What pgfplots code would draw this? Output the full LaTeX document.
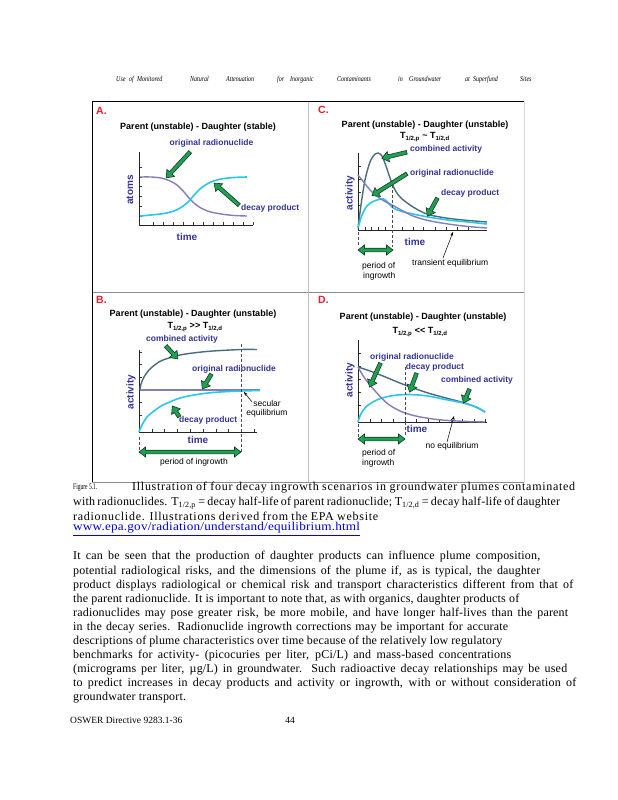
\documentclass[border=0pt]{standalone}
\usepackage{pgfplots}
\pgfplotsset{compat=1.18}
\usepackage{fontspec}
\setmainfont{Liberation Serif}
\newfontfamily\arial{Liberation Sans}
\usetikzlibrary{calc,shapes.arrows,arrows.meta}
\definecolor{pur}{RGB}{132,126,182}
\definecolor{cya}{RGB}{45,198,235}
\definecolor{cmb}{RGB}{72,108,124}
\definecolor{lab}{RGB}{52,52,150}
\definecolor{gar}{RGB}{32,160,82}
\definecolor{gard}{RGB}{22,58,36}
\definecolor{pred}{RGB}{228,30,48}
\definecolor{link}{RGB}{0,0,230}
\tikzset{
 garr/.style={single arrow, draw=gard, fill=gar, line width=0.6pt, inner sep=1.6pt,
   single arrow head extend=3.3pt, single arrow tip angle=75, minimum width=9.8pt},
 garr2/.style={double arrow, draw=gard, fill=gar, line width=0.6pt, inner sep=1.5pt,
   double arrow head extend=3.2pt, double arrow tip angle=75, minimum width=9.4pt},
 lb/.style={font=\arial\bfseries\fontsize{8.5}{10}\selectfont, text=lab, inner sep=0},
 ax/.style={font=\arial\bfseries\fontsize{10}{12}\selectfont, text=lab, inner sep=0},
 tt/.style={font=\arial\bfseries\fontsize{9}{10}\selectfont, inner sep=0},
 nt/.style={font=\arial\fontsize{8.5}{10}\selectfont, inner sep=0},
 pl/.style={font=\arial\bfseries\fontsize{10.5}{12}\selectfont, text=pred, inner sep=0, anchor=west},
 bt/.style={font=\fontsize{12}{14}\selectfont\addfontfeatures{LetterSpace=1.5}, inner sep=0, anchor=west},
 bw/.style={font=\fontsize{12}{14}\selectfont\addfontfeatures{LetterSpace=6}, inner sep=0, anchor=west},
 hd/.style={font=\fontsize{7.5}{9}\selectfont\itshape, inner sep=0, anchor=base west},
 thinarr/.style={-{Stealth[length=4pt,width=3pt]}, line width=0.5pt, black},
 dsh/.style={dashed, dash pattern=on 3pt off 2pt, line width=0.7pt, black!70}
}
\newcommand\garrow[2]{\path let \p1=($(#2)-(#1)$), \n1={atan2(\y1,\x1)}, \n2={veclen(\x1,\y1)} in ($(#1)!0.5!(#2)$) node[garr, rotate=\n1, minimum height=\n2] {};}
\pgfplotsset{panel/.style={scale only axis, axis lines=left, axis line style={-, line width=0.7pt, black!85},
  xticklabel=\empty, yticklabel=\empty, tick align=inside, major tick length=3pt,
  tick style={black!80, line width=0.6pt}, clip=false, anchor=south west, xmin=0, ymin=0, enlargelimits=false}}
\begin{document}
\begin{tikzpicture}[x=1pt,y=1pt]
\useasboundingbox (0,0) rectangle (618,-800);
\fill[white] (0,0) rectangle (618,-800);
% header
\foreach \w/\xx in {Use/116, of/129, Monitored/137, Natural/190, Attenuation/226, for/277, Inorganic/290, Contaminants/337, in/398, Groundwater/409, at/465, Superfund/473, Sites/520}
  \node[hd] at (\xx,-81.5) {\scalebox{0.8}[1]{\w}};
% frame
\draw[black!45, line width=0.8pt] (92,-292) -- (524,-292);
\draw[black!45, line width=0.8pt] (92,-482) -- (524,-482);
\draw[black!25, line width=0.8pt] (308,-101) -- (308,-482);
\draw[black!15, line width=0.8pt] (524,-101) -- (524,-482);
\draw[black, line width=0.9pt] (92,-482) -- (92,-101) -- (524,-101);

% ---------- Panel A ----------
\begin{axis}[panel, at={(139pt,-225pt)}, width=114pt, height=73pt, xmax=114, ymax=73,
  xtick={14,24,...,114}, ytick={9,19,29,39,48,58}]
\addplot[pur, smooth, line width=1.4pt] coordinates {(1,48) (12,48) (22,47) (30,44.5) (38,40) (45,33) (50,27) (55,22) (61,17.5) (70,13.5) (82,11) (95,9.5) (108,9)};
\addplot[cya, smooth, line width=1.6pt] coordinates {(1,9) (12,10) (25,11.5) (35,14) (42,17.5) (48,22) (53,27.5) (58,33) (64,38.5) (72,43) (82,46) (95,47.5) (108,48)};
\end{axis}
\node[pl] at (96,-111) {A.};
\node[tt] at (198,-127) {Parent (unstable) - Daughter (stable)};
\node[lb] at (211.5,-143) {original radionuclide};
\node[lb, anchor=west] at (241,-208) {decay product};
\node[ax, rotate=90] at (130,-190) {atoms};
\node[ax] at (187,-237) {time};
\garrow{191,-151}{167,-177}
\garrow{240,-206}{215,-184}

% ---------- Panel C ----------
\begin{axis}[panel, at={(358pt,-230pt)}, width=129pt, height=77pt, xmax=129, ymax=77,
  xtick={7,13.5,20,27,44,55,65,77,88,99,110}, ytick={12,25,38,51,64}]
\addplot[cmb, smooth, line width=1.4pt] coordinates {(0,2) (3,25) (7,50) (12,68) (17,76) (20,77) (24,74) (28,64) (32,52) (36,42) (42,33) (52,25) (62,19) (72,15) (88,12) (105,10) (129,8)};
\addplot[cya, smooth, line width=1.6pt] coordinates {(0,2) (4,15) (9,24) (15,28.5) (21,30.5) (25,31) (28,29.5) (32,25) (36,21.5) (44,18.5) (55,16) (70,13) (90,10) (110,8) (129,6)};
\addplot[pur, smooth, line width=1.4pt] coordinates {(0,55) (6,47.5) (13,39) (20,33) (27,28.5) (35,24.5) (45,19) (55,14) (70,9.5) (90,6) (110,3.5) (129,2)};
\end{axis}
\draw[dsh] (392,-185) -- (392,-247);
\draw[dsh] (358,-232) -- (358,-247);
\node[pl] at (318,-110) {C.};
\node[tt] at (425,-125) {Parent (unstable) - Daughter (unstable)};
\node[tt] at (425,-137) {T\textsubscript{1/2,p} \textasciitilde\ T\textsubscript{1/2,d}};
\node[lb, anchor=west] at (410,-149) {combined activity};
\node[lb, anchor=west] at (410,-173) {original radionuclide};
\node[lb, anchor=west] at (441,-193) {decay product};
\node[ax, rotate=90] at (350,-193) {activity};
\node[ax] at (415,-242) {time};
\node[nt, anchor=west] at (412,-263) {transient equilibrium};
\node[nt, anchor=west] at (362,-266) {period of};
\node[nt, anchor=west] at (363,-276) {ingrowth};
\garrow{408,-152}{383,-158}
\garrow{408,-173}{373,-195}
\garrow{438,-197}{428,-215}
\draw[thinarr] (443,-258) -- (453,-232);
\node[garr2, minimum height=35pt] at (375.5,-250) {};

% ---------- Panel B ----------
\begin{axis}[panel, at={(139pt,-432pt)}, width=118pt, height=82pt, xmax=118, ymax=82,
  xtick={13,25.5,38,51,64,77,89.5,102,115}, ytick={17,30,43,55,68,80}]
\addplot[cmb, smooth, line width=1.4pt] coordinates {(1,42) (2,48) (5,55) (10,62) (17,68) (24,72) (41,77) (58,79.5) (74,81) (102,82.5) (118,82.5)};
\addplot[pur, line width=1.4pt] coordinates {(1,42) (121,42)};
\addplot[cya, smooth, line width=1.6pt] coordinates {(0,0) (3,7) (8,15) (15,21) (24,27) (41,34) (58,37.5) (74,39.5) (90,40.5) (102,41) (121,41.5)};
\end{axis}
\draw[dsh] (241,-344) -- (241,-453);
\draw[dsh] (139,-437) -- (139,-453);
\node[pl] at (96,-300) {B.};
\node[tt] at (193,-314) {Parent (unstable) - Daughter (unstable)};
\node[tt] at (195,-327) {T\textsubscript{1/2,p} >> T\textsubscript{1/2,d}};
\node[lb] at (182,-339) {combined activity};
\node[lb, anchor=west] at (192,-369) {original radionuclide};
\node[lb, anchor=west] at (179,-420) {decay product};
\node[nt] at (267,-403) {secular};
\node[nt] at (267,-413) {equilibrium};
\draw[thinarr] (252,-402) -- (244,-392);
\node[ax, rotate=90] at (131,-392) {activity};
\node[ax] at (198,-440) {time};
\node[nt] at (194,-462) {period of ingrowth};
\node[garr2, minimum height=102pt] at (190,-452) {};
\garrow{165,-345}{177,-358}
\garrow{212,-373}{203,-388}
\garrow{180,-418}{173,-407}

% ---------- Panel D ----------
\begin{axis}[panel, at={(358pt,-422pt)}, width=129pt, height=82pt, xmax=129, ymax=82,
  xtick={12,23.5,35,47,58.5,70,81.5,93,104.5,116,127.5}, ytick={17,30,43,56,69}]
\addplot[cmb, smooth, line width=1.4pt] coordinates {(0,55) (12,51) (25,46) (47,37) (70,29) (90,23.5) (105,19.5) (118,15) (127,10)};
\addplot[cya, smooth, line width=1.6pt] coordinates {(0,0) (2,6) (5,11.5) (9,16) (14,19.5) (20,22.5) (30,25.5) (40,27) (50,27.5) (60,27) (70,26) (85,23) (105,19) (118,15) (127,10)};
\addplot[pur, smooth, line width=1.4pt] coordinates {(0,55) (4,48) (8,42) (12,37) (18,30) (24,23.5) (30,18) (38,13) (47,9) (60,5.5) (75,3) (90,1.5) (110,0.5) (127,0)};
\end{axis}
\draw[dsh] (405,-367) -- (405,-437);
\draw[dsh] (358,-424) -- (358,-437);
\node[pl] at (318,-300) {D.};
\node[tt] at (423,-317) {Parent (unstable) - Daughter (unstable)};
\node[tt] at (420,-332) {T\textsubscript{1/2,p} << T\textsubscript{1/2,d}};
\node[lb] at (412,-357) {original radionuclide};
\node[lb] at (435,-367) {decay product};
\node[lb] at (477,-380) {combined activity};
\node[ax, rotate=90] at (350,-380) {activity};
\node[ax] at (417,-429) {time};
\node[nt] at (452,-446) {no equilibrium};
\node[nt, anchor=west] at (362,-453) {period of};
\node[nt, anchor=west] at (362,-463) {ingrowth};
\node[garr2, minimum height=47pt] at (381.5,-439) {};
\garrow{381,-362}{370,-386}
\garrow{417,-372}{410,-391}
\garrow{470,-388}{464,-402}
\draw[thinarr] (447,-442) -- (454,-416);

% ---------- caption ----------
\node[inner sep=0, anchor=west] at (73,-488) {\scalebox{0.65}[1]{\fontsize{8.5}{10}\selectfont Figure 5.1.}};
\node[bw] at (132,-488) {\makebox[443pt][s]{Illustration of four decay ingrowth scenarios in groundwater plumes contaminated}};
\node[bt] at (73,-503) {\makebox[487pt][s]{with radionuclides. T\textsubscript{1/2,p} = decay half-life of parent radionuclide; T\textsubscript{1/2,d} = decay half-life of daughter}};
\node[bw] at (73,-516) {\makebox[305pt][s]{radionuclide. Illustrations derived from the EPA website}};
\node[bt, text=link] at (73,-529) {\scalebox{1.1}[1]{\underline{www.epa.gov/radiation/understand/equilibrium.html}}};

% ---------- paragraph ----------
\node[bt] at (73,-557) {\makebox[467pt][s]{It can be seen that the production of daughter products can influence plume composition,}};
\node[bt] at (73,-572) {\makebox[467pt][s]{potential radiological risks, and the dimensions of the plume if, as is typical, the daughter}};
\node[bt] at (73,-586) {\makebox[500pt][s]{product displays radiological or chemical risk and transport characteristics different from that of}};
\node[bt] at (73,-600) {\makebox[446pt][s]{the parent radionuclide. It is important to note that, as with organics, daughter products of}};
\node[bt] at (73,-614) {\makebox[495pt][s]{radionuclides may pose greater risk, be more mobile, and have longer half-lives than the parent}};
\node[bt] at (73,-628) {\makebox[435pt][s]{in the decay series. Radionuclide ingrowth corrections may be important for accurate}};
\node[bt] at (73,-642) {\makebox[429pt][s]{descriptions of plume characteristics over time because of the relatively low regulatory}};
\node[bt] at (73,-656) {\makebox[438pt][s]{benchmarks for activity- (picocuries per liter, pCi/L) and mass-based concentrations}};
\node[bt] at (73,-670) {\makebox[494pt][s]{(micrograms per liter, µg/L) in groundwater. Such radioactive decay relationships may be used}};
\node[bt] at (73,-684) {\makebox[503pt][s]{to predict increases in decay products and activity or ingrowth, with or without consideration of}};
\node[bt] at (73,-698) {groundwater transport.};
% footer
\node[inner sep=0, anchor=west, font=\fontsize{9.5}{11}\selectfont] at (70,-720) {OSWER Directive 9283.1-36};
\node[inner sep=0, font=\fontsize{9.5}{11}\selectfont] at (290,-720) {44};
\end{tikzpicture}
\end{document}
